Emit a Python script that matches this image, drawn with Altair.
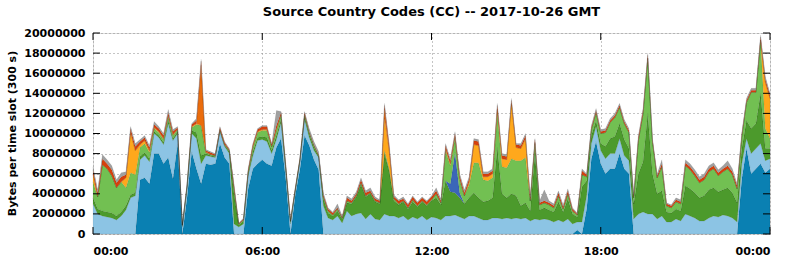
import altair as alt
import pandas as pd

# time slots every 10 minutes, 00:00 .. 24:00 (hours)
hours = [i / 6 for i in range(145)]

# layer values in millions of bytes per 300 s slot (bottom to top)
dk_blue = [0,0,0,0,0,0,0,0,0,0,
           5.4,5.6,5.0,8.0,8.0,7.0,7.6,5.5,9.0,
           0,3.6,8.2,6.5,5.0,7.0,6.9,7.0,9.0,7.6,7.0,
           0,0,0,4.5,6.5,7.0,7.4,
           7.0,6.8,8.6,9.5,5.5,0,3.8,6.4,9.8,8.8,7.4,6.4,
           0,0,0,0,0,0,
           0,0,0,0,0,0,0,0,0,0,0,0,0,0,0,0,0,0,
           0,0,0,0,0,0,0,0,0,0,0,0,0,0,0,0,0,0,
           0,0,0,0,0,0,0,0,0,0,0,0,0.4,0,2.5,7.5,9.2,
           7.0,6.0,6.5,6.5,8.0,6.5,6.0,0,0,0,0,0,0,0,0,0,0,0,
           0,0,0,0,0,0,0,0,0,0,0,0,5.5,8.5,6.0,6.5,7.0,6.1,6.5]
lt_blue = [3.0,2.0,1.8,1.7,1.6,1.4,1.8,2.4,3.6,3.8,
           2.0,2.2,2.2,2.0,1.6,1.9,3.4,3.8,1.0,
           0.7,0.9,1.8,3.0,2.0,0.8,0.8,0.6,1.2,1.1,1.0,
           1.0,0.7,1.0,1.3,1.3,2.3,2.0,
           2.2,1.2,0.8,1.6,0.8,1.0,0.4,0.8,1.6,0.8,0.9,1.2,
           2.8,1.6,1.4,1.8,1.1,2.3,
           1.8,2.0,2.1,1.5,2.0,1.5,1.4,2.0,1.8,1.8,1.6,1.8,1.4,1.7,1.5,1.8,1.4,1.7,
           1.6,1.4,1.8,1.8,1.9,1.7,1.5,1.8,1.8,1.6,1.4,1.4,1.6,1.6,1.5,1.6,1.5,1.6,
           1.5,1.6,1.3,1.5,1.4,1.5,1.4,1.2,1.4,1.2,1.5,1.0,0.8,1.2,1.3,1.5,1.5,
           1.3,1.5,1.5,1.5,1.5,1.3,1.3,1.5,2.0,2.2,2.0,2.0,1.5,1.8,1.2,1.2,1.5,1.3,
           2.0,1.8,1.6,1.3,1.3,1.6,1.8,1.7,1.9,1.8,1.6,1.2,1.5,1.0,2.0,2.0,2.0,1.2,1.0]
dk_green = [0.6,0.5,0.5,0.5,0.5,0.4,0.4,0.4,0.3,0.3,
            0.3,0.3,0.3,0.2,0.2,0.2,0.3,0.2,0.2,
            0.1,0.2,0.3,0.6,0.8,0.2,0.1,0.1,0.1,0.1,0.2,
            3.0,0.2,0.3,0.2,0.4,0.3,0.3,
            0.4,0.3,0.4,0.3,0.2,0.2,0.1,0.1,0.3,0.3,0.3,0.1,
            0.7,0.5,0.4,0.5,0.4,0.8,
            1.2,1.7,2.8,2.2,2.0,1.7,1.6,6.0,4.5,1.5,1.3,1.4,1.1,1.5,1.2,1.4,1.4,1.6,
            2.0,1.5,3.5,2.4,2.2,1.9,1.5,1.8,2.3,2.0,1.8,1.9,2.0,7.0,2.5,2.0,2.5,2.2,
            1.3,1.5,1.0,6.5,1.0,1.1,1.0,1.0,1.8,1.0,2.0,1.0,0.5,3.5,1.5,0.8,0.6,
            0.7,1.2,1.5,1.7,1.5,1.6,1.2,1.5,4.0,5.0,10.0,4.0,2.5,2.5,1.0,0.9,1.0,1.0,
            2.8,2.7,2.5,2.3,2.5,2.8,2.8,2.5,2.5,2.8,2.5,1.9,1.5,1.8,2.5,2.5,5.0,1.2,1.0]
md_blue = [0]*76 + [0.8,4.0,0.5] + [0]*66
lt_green = [1.6,1.2,4.6,4.3,3.7,2.8,3.0,1.8,2.2,1.8,
            0.9,0.9,0.6,0.3,0.3,0.3,0.4,0.3,0.2,
            0.1,0.1,0.3,0.8,3.0,0.1,0.1,0.1,0.1,0.1,0.1,
            0.5,0.1,0.1,0.2,0.4,0.5,0.6,
            0.7,0.4,0.5,0.5,0.2,0.1,0.1,0.1,0.2,0.2,0.2,0.1,
            0.2,0.2,0.1,0.2,0.1,0.2,
            0.1,0.1,0.2,0.1,0.1,0.1,0.1,0.3,0.2,0.2,0.1,0.1,0.1,0.2,0.1,0.1,0.1,0.1,
            0.4,0.2,3.0,1.8,1.5,1.3,0.8,1.3,3.0,3.5,2.2,2.0,2.0,3.4,2.7,3.0,3.5,3.5,
            4.5,4.5,1.0,1.0,0.5,0.5,0.5,0.4,0.6,0.3,0.5,0.3,0.2,1.2,0.4,0.6,0.8,
            1.0,1.4,1.6,1.9,1.6,1.6,1.6,0.6,3.3,4.8,5.5,3.2,1.6,2.4,0.6,0.5,0.7,0.7,
            2.0,1.9,1.7,1.5,1.6,1.8,1.9,1.6,1.8,1.9,1.8,1.4,1.2,1.8,3.6,3.1,5.3,2.0,1.0]
gold = [0.8,0,0,0,0,0,0,1.0,4.0,2.4,
        0.3,0.3,0.2,0.1,0.1,0.1,0.1,0.1,0,
        0,0,0.1,0.1,0,0,0,0,0,0,0,
        0,0,0,0,0.1,0.1,0.1,
        0.1,0,0.1,0,0,0,0,0,0,0,0,0,
        0,0,0,0,0,0,
        0,0,0,0,0,0,0,3.2,1.8,0,0,0,0,0,0,0,0,0,
        0,0,0.2,0.2,0.1,0.1,0,0.3,1.8,1.7,0.3,0.4,0.4,0.4,0.8,0.8,5.5,1.3,
        1.2,1.9,0,0.1,0,0,0,0,0,0,0,0,0,0,0,0,0,
        0,0,0,0,0,0,0,0,0,0,0,0,0,0,0,0,0,0,
        0,0,0,0,0,0,0,0,0,0,0,0,0,0,0,0,0,4.6,4.0]
orange = [0]*23 + [6.0,0.1] + [0]*37 + [1.0] + [0]*82
red = [0.4,0.4,0.6,0.5,0.6,0.5,0.5,0.3,0.4,0.4,
       0.3,0.3,0.3,0.3,0.3,0.3,0.3,0.3,0.2,
       0.05,0.1,0.2,0.3,0.4,0.1,0.2,0.1,0.2,0.2,0.1,
       0.3,0.05,0.1,0.2,0.2,0.2,0.3,
       0.3,0.2,0.4,0.2,0.2,0.1,0.1,0.1,0.2,0.1,0.1,0.1,
       0.2,0.2,0.2,0.1,0.1,0.3,
       0.2,0.2,0.3,0.3,0.2,0.2,0.2,0.3,0.5,0.2,0.3,0.2,0.3,0.3,0.3,0.3,0.3,0.3,
       0.3,0.2,0.3,0.3,0.3,0.3,0.3,0.3,0.4,0.4,0.3,0.3,0.3,0.4,0.3,0.3,0.3,0.3,
       0.3,0.3,0.3,0.3,0.2,0.2,0.2,0.2,0.3,0.2,0.3,0.2,0.1,0.4,0.2,0.2,0.2,
       0.2,0.2,0.2,0.2,0.2,0.2,0.2,0.2,0.3,0.3,0.3,0.2,0.2,0.3,0.2,0.2,0.2,0.2,
       0.3,0.3,0.3,0.3,0.3,0.3,0.3,0.3,0.3,0.3,0.3,0.3,0.2,0.2,0.2,0.2,0.3,0.3,0.3]
grey = [0.3,0.3,0.4,0.4,0.4,0.3,0.4,0.3,0.2,0.3,
        0.2,0.2,0.2,0.3,0.2,0.2,0.3,0.2,0.1,
        0.05,0.1,0.1,0.2,0.2,0.1,0.1,0.1,0.1,0.1,0.1,
        0.2,0.05,0.1,0.1,0.1,0.1,0.1,
        0.1,0.1,1.5,0.1,0.1,0.1,0,0,0.1,0.3,0.3,0.3,
        0.2,0.1,0.1,0.4,0.1,0.2,
        0.2,0.2,0.2,0.2,0.3,0.2,0.1,0.2,0.2,0.2,0.1,0.2,0.1,0.1,0.1,0.1,0.1,0.1,
        0.3,0.2,0.2,0.2,0.2,0.2,0.3,0.2,0.2,0.2,0.2,0.2,0.2,0.2,0.2,0.2,0.2,0.1,
        0.2,0.2,0.2,0.1,0.2,1.1,0.2,0.2,0.2,0.2,0.2,0.1,0.1,0.2,0.1,0.2,0.2,
        0.2,0.2,0.2,0.2,0.2,0.2,0.2,0.2,0.2,0.2,0.2,0.1,0.2,0.4,0.1,0.1,0.2,0.2,
        0.3,0.3,0.3,0.3,0.3,0.3,0.3,0.3,0.3,0.5,0.3,0.2,0.2,0.2,0.2,0.2,0.2,0.3,0.2]

series_names = ["dk_blue", "lt_blue", "dk_green", "md_blue", "lt_green",
                "gold", "orange", "red", "grey"]
series_values = [dk_blue, lt_blue, dk_green, md_blue, lt_green,
                 gold, orange, red, grey]
series_colors = ["#0a80b2", "#8cc4e4", "#4c9a2c", "#3b66b8", "#72c052",
                 "#ffa81c", "#ea6c0c", "#d6400c", "#a0a0a0"]

y_ticks = [0, 2000000, 4000000, 6000000, 8000000, 10000000,
           12000000, 14000000, 16000000, 18000000, 20000000]
x_ticks = [0, 6, 12, 18, 24]

rows = []
for k, (name, vals) in enumerate(zip(series_names, series_values)):
    for h, v in zip(hours, vals):
        rows.append({"h": h, "series": name, "bytes": v * 1e6, "k": k})
df = pd.DataFrame(rows)

FONT = "DejaVu Sans"
xscale = alt.Scale(domain=[0, 24], nice=False, zero=False)
yscale = alt.Scale(domain=[0, 20000000], nice=False)

xaxis = alt.Axis(
    values=x_ticks, title=None, grid=True, gridDash=[1, 3],
    gridColor="#8a8a8a", ticks=False, domain=False,
    labelExpr="(datum.value % 24 < 10 ? '0' : '') + (datum.value % 24) + ':00'",
    labelFont=FONT, labelFontWeight="bold", labelFontSize=11,
    labelColor="#000", labelPadding=11)
yaxis = alt.Axis(
    values=y_ticks, format="d", title="Bytes per time slot (300 s)",
    grid=True, gridDash=[1, 3], gridColor="#8a8a8a", ticks=False,
    domain=False, labelFont=FONT, labelFontWeight="bold",
    labelFontSize=11, labelColor="#000", labelPadding=8,
    titleFont=FONT, titleFontWeight="bold", titleFontSize=11,
    titleColor="#000", titleX=-78, titleY=100, titleBaseline="alphabetic")

areas = alt.Chart(df).mark_area(
    interpolate="linear", stroke="#000", strokeWidth=0.4, strokeOpacity=0.15
).encode(
    x=alt.X("h:Q", scale=xscale, axis=xaxis),
    y=alt.Y("bytes:Q", stack="zero", scale=yscale, axis=yaxis),
    color=alt.Color("series:N", scale=alt.Scale(domain=series_names,
                                                range=series_colors), legend=None),
    order=alt.Order("k:Q", sort="ascending"),
)

ydf = pd.DataFrame({"bytes": y_ticks})
xdf = pd.DataFrame({"h": x_ticks})
tick_l = alt.Chart(ydf).mark_rule(color="#000").encode(
    y=alt.Y("bytes:Q", scale=yscale, axis=yaxis), x=alt.value(0), x2=alt.value(7))
tick_r = alt.Chart(ydf).mark_rule(color="#000").encode(
    y=alt.Y("bytes:Q", scale=yscale, axis=yaxis), x=alt.value(670), x2=alt.value(677))
tick_t = alt.Chart(xdf).mark_rule(color="#000").encode(
    x=alt.X("h:Q", scale=xscale, axis=xaxis), y=alt.value(0), y2=alt.value(7))
tick_b = alt.Chart(xdf).mark_rule(color="#000").encode(
    x=alt.X("h:Q", scale=xscale, axis=xaxis), y=alt.value(194), y2=alt.value(201))

chart = alt.layer(areas, tick_l, tick_r, tick_t, tick_b).properties(
    width=677, height=201,
    padding={"left": 93, "top": 33, "right": 22, "bottom": 25},
    autosize="none",
    title=alt.TitleParams("Source Country Codes (CC) -- 2017-10-26 GMT",
                          font=FONT, fontSize=13, fontWeight="bold",
                          color="#000", anchor="middle", offset=8),
).configure_view(stroke="#000", strokeWidth=1.5).configure(background="#fff")

chart.save("out.html", embed_options={"renderer": "svg", "actions": False})
